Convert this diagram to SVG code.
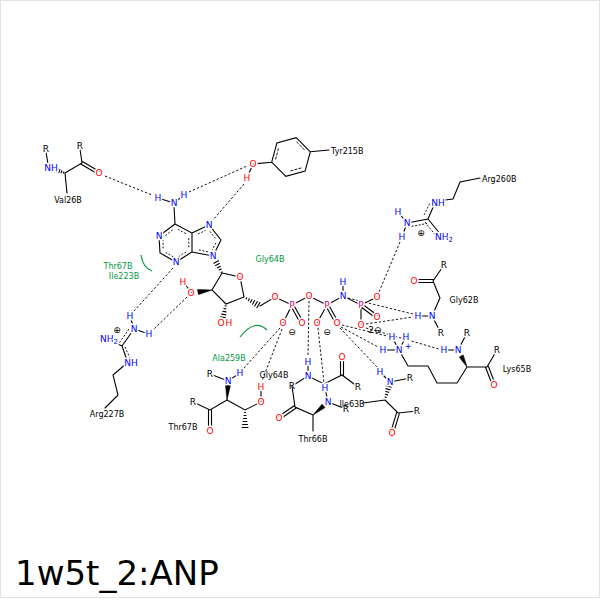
<svg xmlns="http://www.w3.org/2000/svg" width="600" height="600" viewBox="0 0 600 600">
<style>
.b{stroke:#000;stroke-width:1.1;fill:none;stroke-linecap:round}
.ar{stroke:#000;stroke-width:0.9;fill:none;stroke-dasharray:2,1.6}
.ti{stroke:#000;stroke-width:0.9;fill:none;stroke-dasharray:3,1.2}
.h{stroke:#000;stroke-width:0.9;fill:none;stroke-dasharray:2.4,1.9}
.w{fill:#000;stroke:#000;stroke-width:0.6;stroke-linejoin:round}
.hy{stroke:#009944;stroke-width:1.2;fill:none}
text{font-family:"DejaVu Sans","Liberation Sans",sans-serif}
.a{font-size:9px;text-anchor:middle;stroke:#fff;stroke-width:3;paint-order:stroke;stroke-linejoin:round}
.N{fill:#0000ff}.O{fill:#ff0000}.P{fill:#d6007f}.C{fill:#000}
.l{font-size:8px;fill:#000;text-anchor:middle}
.g{font-size:8px;fill:#009944;text-anchor:middle}
.q{font-size:9px;fill:#000;text-anchor:middle}
</style>
<rect x="0.5" y="0.5" width="599" height="597" fill="#fff" stroke="#e3e3e3"/>

<g id="connectors">
<path class="h" d="M105,176L152,195"/>
<path class="h" d="M189,192L247,166"/>
<path class="h" d="M244,184L213,220"/>
<path class="h" d="M173,268L134,311"/>
<path class="h" d="M187,297L153,330"/>
<path class="h" d="M280,328L244,368"/>
<path class="h" d="M282,329L262,381"/>
<path class="h" d="M309,301L308,357"/>
<path class="h" d="M318,328L324,383"/>
<path class="h" d="M342,325L387,336"/>
<path class="h" d="M341,327L378,347"/>
<path class="h" d="M340,328L377,367"/>
<path class="h" d="M348,298L413,314"/>
<path class="h" d="M366,324L413,317"/>
<path class="h" d="M366,328L439,349"/>
<path class="h" d="M400,242L379,292"/>
<path class="hy" d="M141,255Q143,268 152,271"/>
<path class="hy" d="M240,337Q255,318 267,330"/>
</g>

<g id="ligand">
<path class="b" d="M174,206L175,224M175,224L192,233L192,252L176,262L160,253L159,236Z M192,233L209,225L221,240L213,256L192,252 M174,203L158,198M174,203L184,195"/>
<path class="ar" d="M177.8,229.3L186.1,233.7M188.8,238.1L188.8,247.3M186.2,251.9L178.5,256.7M173.3,256.9L165.7,252.5M163.1,248.4L163,240.2M165.4,235.6L172.7,229.8M209.9,231.4L215.3,238.2M215.9,242.8L212.3,250M197.9,234L205.6,230.4M207.9,251.8L198.6,249.8"/>
<path class="b" d="M213.9,263.2L218.5,260.8M215.6,265.5L219.4,263.5M217.5,267.8L220.3,266.4M219.2,270.1L221.2,269.1M221.1,272.5L222.1,271.9"/>
<path class="b" d="M222,273L240,277L244,297L226,304L212,290Z M192,293L183,282"/>
<polygon class="w" points="212,290 198.4,294.6 197.6,289.6"/>
<path class="b" d="M225,305.8L226.2,306M223.9,308.5L226.1,309M222.8,311.3L226,311.9M221.7,314.1L225.9,314.9M220.7,316.8L225.7,317.8"/>
<path class="b" d="M246.1,298.9L246.7,297.8M248.3,300.7L249.3,298.7M250.4,302.4L252,299.7M252.6,304.2L254.6,300.6M254.7,306L257.3,301.5M256.9,307.7L259.9,302.5"/>
<path class="b" d="M260,306L275,297L292,305"/>
<path class="b" d="M292,305L283,323M290.7,305.7L300.7,323.7M293.3,304.3L303.3,322.3M292,305L309,296L327,305L317,323M325.7,305.7L335.7,323.7M328.3,304.3L338.3,322.3M327,305L343,296L361,305L377,297M360.1,306.2L376.1,318.2M361.9,303.8L377.9,315.8M361,305L361,325M343,296L343,282"/>
<text class="a N" x="174" y="206">N</text>
<text class="a N" x="158" y="201">H</text>
<text class="a N" x="184" y="198">H</text>
<text class="a N" x="159" y="239">N</text>
<text class="a N" x="176" y="265">N</text>
<text class="a N" x="209" y="228">N</text>
<text class="a N" x="213" y="259">N</text>
<text class="a O" x="240" y="280">O</text>
<text class="a O" x="191" y="296">O</text>
<text class="a O" x="183" y="285">H</text>
<text class="a O" x="221" y="326">O</text>
<text class="a O" x="229" y="326">H</text>
<text class="a O" x="275" y="300">O</text>
<text class="a P" x="292" y="308">P</text>
<text class="a O" x="283" y="326">O</text>
<text class="a O" x="302" y="326">O</text>
<text class="a O" x="309" y="299">O</text>
<text class="a P" x="327" y="308">P</text>
<text class="a O" x="317" y="326">O</text>
<text class="a O" x="337" y="326">O</text>
<text class="a N" x="343" y="299">N</text>
<text class="a N" x="343" y="285">H</text>
<text class="a P" x="361" y="308">P</text>
<text class="a O" x="377" y="300">O</text>
<text class="a O" x="377" y="320">O</text>
<text class="a O" x="361" y="328">O</text>
<text class="q" x="292" y="335">⊖</text>
<text class="q" x="327" y="335">⊖</text>
<text class="q" x="375" y="333">2⊖</text>
</g>

<g id="Val26B">
<path class="b" d="M46,152L48,164M63.43,172.97L63.77,172.03M61.16,172.69L61.84,170.81M58.9,172.4L59.9,169.6M56.6,172.1L58,168.4M65,173L82,163L80,149M81.2,164.3L98.2,174.3M82.8,161.7L99.8,171.7M65,173L67,193"/>
<text class="a C" x="46" y="152">R</text>
<text class="a N" x="51" y="171">NH</text>
<text class="a C" x="80" y="149">R</text>
<text class="a O" x="99" y="176">O</text>
<text class="l" x="68" y="203">Val26B</text>
</g>

<g id="Tyr215B">
<path class="b" d="M253,164L247,178M253,164L271.7,162.2M271.7,162.2L276.9,142.9L296.2,137.7L310.3,151.8L305.1,171.1L285.8,176.3Z M310.3,151.8L329,150"/>
<path class="ti" d="M275.6,159.4L278.7,147.4M296.4,141.6L305,150.4M301.3,167.9L289.4,171.2"/>
<text class="a O" x="253" y="167">O</text>
<text class="a O" x="247" y="181">H</text>
<text class="l" x="331" y="154" style="text-anchor:start">Tyr215B</text>
</g>

<g id="Arg227B">
<path class="b" d="M134,329L130,316M134,329L149,334M122,346L134,329M122,346L110,340M122,346L128,363M127,363L113,375L118,395L105,408"/>
<path class="ar" d="M119.5,342.5L129.5,328.3M125,347L130,358"/>
<text class="a N" x="130" y="319">H</text>
<text class="a N" x="134" y="332">N</text>
<text class="a N" x="149" y="337">H</text>
<text class="q" x="117" y="333">⊕</text>
<text class="a N" x="100" y="342" style="text-anchor:start">NH<tspan font-size="7" dy="2">2</tspan></text>
<text class="a N" x="131" y="366">NH</text>
<text class="l" x="107" y="417">Arg227B</text>
</g>

<g id="Thr67B">
<path class="b" d="M210,374L228,381L240,373M227,400L210,410L193,402M208.5,410L208.5,431M211.5,410L211.5,431M227,400L245,410L261,402L261,387"/>
<polygon class="w" points="227,400 225.5,385 230.5,385"/>
<path class="b" d="M244.5,412.5L245.5,412.5M244,415.5L246,415.5M243.5,418.5L246.5,418.5M243,421.5L247,421.5M242.5,424.5L247.5,424.5M242,427.5L248,427.5"/>
<text class="a C" x="210" y="377">R</text>
<text class="a N" x="228" y="384">N</text>
<text class="a N" x="240" y="376">H</text>
<text class="a C" x="193" y="405">R</text>
<text class="a O" x="210" y="434">O</text>
<text class="a O" x="261" y="405">O</text>
<text class="a O" x="261" y="390">H</text>
<text class="l" x="183" y="430">Thr67B</text>
</g>

<g id="Gly64B">
<path class="b" d="M292,386L308,376L308,362M308,376L324,384L342,375L358,387M340.5,375L340.5,357M343.5,375L343.5,357"/>
<text class="a C" x="292" y="389">R</text>
<text class="a N" x="308" y="379">N</text>
<text class="a N" x="308" y="365">H</text>
<text class="a O" x="342" y="360">O</text>
<text class="a C" x="358" y="390">R</text>
<text class="l" x="274" y="378">Gly64B</text>
</g>

<g id="Thr66B">
<path class="b" d="M328,402L325,388M313,415L295,407L292,386M295.85,408.24L279.85,419.24M294.15,405.76L278.15,416.76M313,415L313,431M328,402L346,409"/>
<polygon class="w" points="313,415 325,407.6 322,404.2"/>
<text class="a N" x="325" y="391">H</text>
<text class="a N" x="328" y="405">N</text>
<text class="a O" x="279" y="421">O</text>
<text class="a C" x="346" y="412">R</text>
<text class="l" x="313" y="442">Thr66B</text>
</g>

<g id="Ile63B">
<path class="b" d="M390,382L380,372M390,382L410,378M385,400L363,403M385,400L398,413L417,411M399.4,413.4L393.4,433.4M396.6,412.6L390.6,432.6"/>
<path class="b" d="M385.17,397.14L386.33,397.46M385.44,394.31L387.56,394.89M385.71,391.47L388.79,392.33M385.98,388.64L390.02,389.76M386.25,385.8L391.25,387.2"/>
<text class="a N" x="380" y="375">H</text>
<text class="a N" x="390" y="385">N</text>
<text class="a C" x="410" y="381">R</text>
<text class="a O" x="392" y="436">O</text>
<text class="a C" x="417" y="414">R</text>
<text class="l" x="352" y="407">Ile63B</text>
</g>

<g id="Lys65B">
<path class="b" d="M399,350L383,350M399,350L392,337M399,350L406,337M399,350L408,366L428,366L437,383L457,383L467,367M458,350L444,350M458,350L467,333M467,367L487,367L497,350M485.6,367.5L492.6,385.5M488.4,366.5L495.4,384.5"/>
<polygon class="w" points="467,367 463.2,354.9 459.2,357.1"/>
<text class="a N" x="383" y="353">H</text>
<text class="a N" x="399" y="353">N</text>
<text class="a N" x="408" y="349" style="font-size:8px">+</text>
<text class="a N" x="392" y="340">H</text>
<text class="a N" x="406" y="340">H</text>
<text class="a N" x="458" y="353">N</text>
<text class="a N" x="444" y="353">H</text>
<text class="a C" x="467" y="336">R</text>
<text class="a C" x="497" y="353">R</text>
<text class="a O" x="494" y="388">O</text>
<text class="l" x="517" y="372">Lys65B</text>
</g>

<g id="Gly62B">
<path class="b" d="M414,279.5L433,279.5M414,282.5L433,282.5M433,281L444,265M433,281L440,298L432,316L418,316M432,316L441,333"/>
<text class="a O" x="414" y="284">O</text>
<text class="a C" x="444" y="268">R</text>
<text class="a N" x="432" y="319">N</text>
<text class="a N" x="418" y="319">H</text>
<text class="a C" x="441" y="336">R</text>
<text class="l" x="464" y="303">Gly62B</text>
</g>

<g id="Arg260B">
<path class="b" d="M407,223L398,212M407,223L402,237M407,223L428,219L434,205M428,219L441,235M445,200L453,199L460,182L480,178"/>
<path class="ar" d="M408,227L427,223.5M424,215L430,203M425,222L436,236"/>
<text class="a N" x="398" y="215">H</text>
<text class="a N" x="407" y="226">N</text>
<text class="a N" x="402" y="240">H</text>
<text class="q" x="421" y="236">⊕</text>
<text class="a N" x="438" y="206">NH</text>
<text class="a N" x="435" y="240" style="text-anchor:start">NH<tspan font-size="7" dy="2">2</tspan></text>
<text class="l" x="482" y="182" style="text-anchor:start">Arg260B</text>
</g>

<g id="hydrophobic-labels">
<text class="g" x="118" y="269">Thr67B</text>
<text class="g" x="124" y="279">Ile223B</text>
<text class="g" x="270" y="262">Gly64B</text>
<text class="g" x="229" y="361">Ala259B</text>
</g>

<text x="15" y="585" font-size="34" fill="#000">1w5t_2:ANP</text>
</svg>
